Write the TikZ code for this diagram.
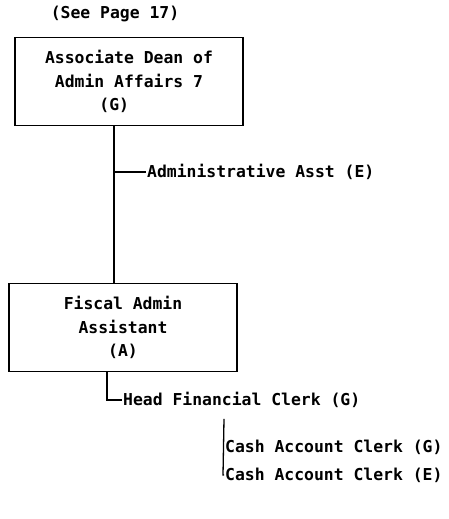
\documentclass[tikz,border=0pt]{standalone}
\usepackage{fontspec}
\setmonofont{DejaVu Sans Mono}
\usetikzlibrary{positioning,calc}

\begin{document}
\begin{tikzpicture}[
  x=1pt,y=-1pt,
  every node/.style={font=\ttfamily\bfseries\fontsize{16.4}{23.5}\selectfont,inner sep=1pt},
  unitbox/.style={draw,line width=1.6pt,minimum width=228pt,minimum height=88pt,
                  align=center},
  staff/.style={anchor=west},
  link/.style={line width=1.3pt},
]
  \useasboundingbox (0,0) rectangle (448,519);

  % Top: reference to other page
  \node (seepage) at (115,14) {(See Page 17)};

  % Associate Dean box
  \node[unitbox] (dean) at (129,81.5)
    {Associate Dean of\\Admin Affairs 7\\(G)\hphantom{000}};

  % Fiscal Admin Assistant box
  \node[unitbox] (fiscal) at (123,327.5)
    {Fiscal Admin\\Assistant\\(A)};

  % staff positions
  \node[staff] (asst) at (146,172) {Administrative Asst (E)};
  \node[staff] (head) at (122,400) {Head Financial Clerk (G)};
  \node[staff] (cashg) at (224,447) {Cash Account Clerk (G)};
  \node[staff] (cashe) at (224,475) {Cash Account Clerk (E)};

  % connectors
  \draw[link] ([xshift=-15pt]dean.south) -- ([xshift=-15pt]dean.south |- fiscal.north);
  \draw[link] ([xshift=-15pt]dean.south |- asst.west) -- (asst.west);
  \draw[link] ([xshift=-16pt]fiscal.south) |- (head.west);
  \draw[link] ([yshift=-10pt]head.south -| cashe.west) -- ([xshift=-1pt]cashe.west)
    -- (cashe.west);
  \draw[link] ([xshift=-1pt]cashg.west) -- (cashg.west);
\end{tikzpicture}
\end{document}
